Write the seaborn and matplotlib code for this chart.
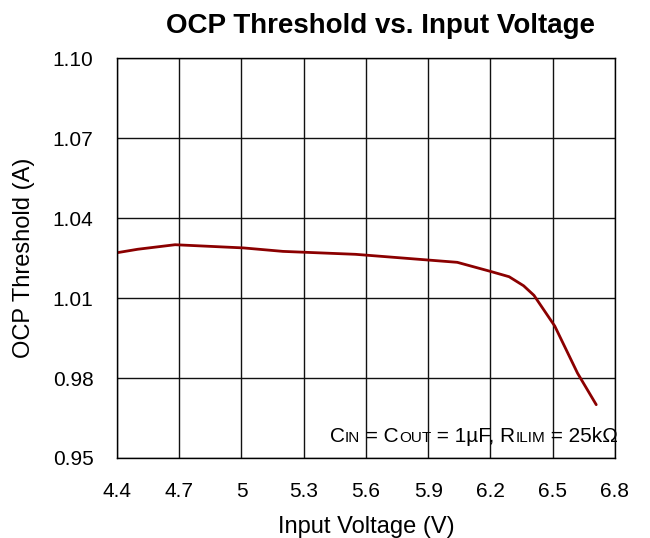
import matplotlib
matplotlib.use("Agg")
import matplotlib.pyplot as plt
import seaborn as sns
import pandas as pd

# values
vin = [4.40, 4.50, 4.68, 5.01, 5.20, 5.55, 6.04, 6.20, 6.29, 6.36, 6.41, 6.51, 6.62, 6.71]
ocp = [1.0270, 1.0283, 1.0300, 1.0288, 1.0275, 1.0264, 1.0234, 1.0200, 1.0180,
       1.0146, 1.0110, 0.9995, 0.9818, 0.9700]
x_ticks = [4.4, 4.7, 5.0, 5.3, 5.6, 5.9, 6.2, 6.5, 6.8]
x_labels = ["4.4", "4.7", "5", "5.3", "5.6", "5.9", "6.2", "6.5", "6.8"]
y_ticks = [0.95, 0.98, 1.01, 1.04, 1.07, 1.10]
y_labels = ["0.95", "0.98", "1.01", "1.04", "1.07", "1.10"]

df = pd.DataFrame({"vin": vin, "ocp": ocp})

sns.set_style("white")
plt.rcParams["font.family"] = ["Liberation Sans", "DejaVu Sans"]
plt.rcParams["text.color"] = "black"

fig = plt.figure(figsize=(6.5, 5.38), dpi=100)
ax = fig.add_axes([0.18, 0.1487, 0.766, 0.7433])

sns.lineplot(data=df, x="vin", y="ocp", ax=ax, color="#8b0000", lw=2)

ax.set_xlim(4.4, 6.8)
ax.set_ylim(0.95, 1.10)
ax.set_xticks(x_ticks)
ax.set_xticklabels(x_labels)
ax.set_yticks(y_ticks)
ax.set_yticklabels(y_labels)
ax.tick_params(axis="x", length=0, labelsize=15, pad=17, colors="black")
ax.tick_params(axis="y", length=0, labelsize=15, pad=17, colors="black")
ax.grid(True, color="#111111", lw=1)
for s in ax.spines.values():
    s.set_color("black")
    s.set_linewidth(1)

ax.set_xlabel("Input Voltage (V)", fontsize=17, color="black")
ax.set_ylabel("OCP Threshold (A)", fontsize=17, color="black")
ax.xaxis.set_label_coords(0.5, -0.145)
ax.yaxis.set_label_coords(-0.165, 0.5)
ax.set_title("OCP Threshold vs. Input Voltage", fontsize=20, fontweight="bold",
             pad=18, color="black", x=0.53)

# condition note with small-caps style subscripts, drawn piece by piece
pieces = [("C", 15), ("IN", 11), (" = C", 15), ("OUT", 11), (" = 1\u00b5F, R", 15),
          ("ILIM", 11), (" = 25k\u03a9", 15)]
fig.canvas.draw()
renderer = fig.canvas.get_renderer()
widths = []
for txt, fs in pieces:
    t = fig.text(0, 0, txt, fontsize=fs)
    widths.append(t.get_window_extent(renderer).width)
    t.remove()
x = 618 - sum(widths)
y0 = 538 - 442
for (txt, fs), w in zip(pieces, widths):
    fig.text(x / 650, y0 / 538, txt, fontsize=fs, va="baseline", color="black")
    x += w

fig.savefig("out.png", dpi=100)
